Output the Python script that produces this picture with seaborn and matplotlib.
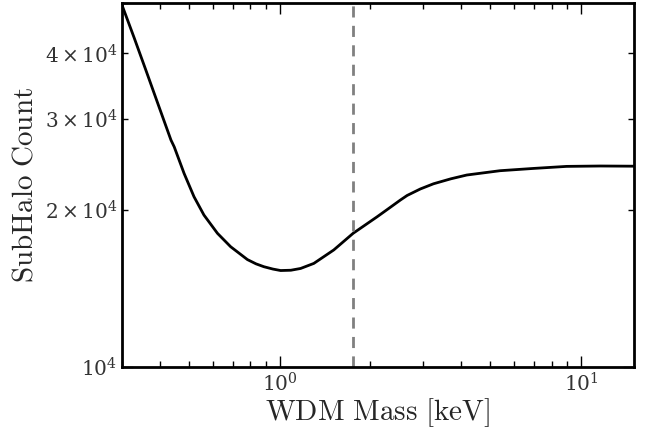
import matplotlib
matplotlib.use("Agg")
import matplotlib.pyplot as plt
import seaborn as sns
import numpy as np
import pandas as pd

# Data
wdm_mass_kev = [0.300, 0.329, 0.360, 0.395, 0.436, 0.447, 0.482, 0.520, 0.561, 0.622,
                0.688, 0.743, 0.782, 0.835, 0.887, 0.95, 1.008, 1.09, 1.174, 1.299,
                1.513, 1.754, 2.107, 2.30, 2.516, 2.65, 2.93, 3.24, 3.70, 4.18,
                5.39, 6.95, 8.97, 11.6, 15.0]
subhalo_count = [49530, 42900, 37150, 31980, 27280, 26470, 23540, 21230, 19580, 18060,
                 17020, 16450, 16080, 15780, 15580, 15420, 15320, 15340, 15460, 15810,
                 16780, 18060, 19430, 20150, 20920, 21350, 21970, 22480, 22980, 23370,
                 23820, 24060, 24280, 24320, 24300]
cutoff_mass = 1.75

sns.set_theme(style="ticks")
plt.rcParams["mathtext.fontset"] = "cm"
plt.rcParams["font.family"] = ["DejaVu Serif"]

fig = plt.figure(figsize=(6.46, 4.30), dpi=100)
ax = fig.add_axes([0.1889, 0.1465, 0.7925, 0.8465])

df = pd.DataFrame({"mass": wdm_mass_kev, "count": subhalo_count})
sns.lineplot(data=df, x="mass", y="count", color="black", linewidth=2.0, ax=ax)
ax.axvline(cutoff_mass, color="#808080", linestyle="--", linewidth=2.0, dashes=(4, 3))

ax.set_xscale("log")
ax.set_yscale("log")
ax.set_xlim(0.3, 15)
ax.set_ylim(1e4, 5e4)

ax.set_xlabel(r"$\mathrm{WDM\ Mass\ [keV]}$", fontsize=21, labelpad=1)
ax.set_ylabel(r"$\mathrm{SubHalo\ Count}$", fontsize=21, labelpad=4)

for s in ax.spines.values():
    s.set_linewidth(2.0)
    s.set_color("black")
    s.set_visible(True)

ax.tick_params(axis="both", which="both", direction="in", top=True, right=True,
               colors="black", labelsize=14.5)
ax.tick_params(axis="both", which="major", length=8, width=1.0)
ax.tick_params(axis="both", which="minor", length=4, width=1.0)
for lab in ax.get_xticklabels(which="both") + ax.get_yticklabels(which="both"):
    lab.set_color("#333333")

fig.savefig("out.png", dpi=100)
